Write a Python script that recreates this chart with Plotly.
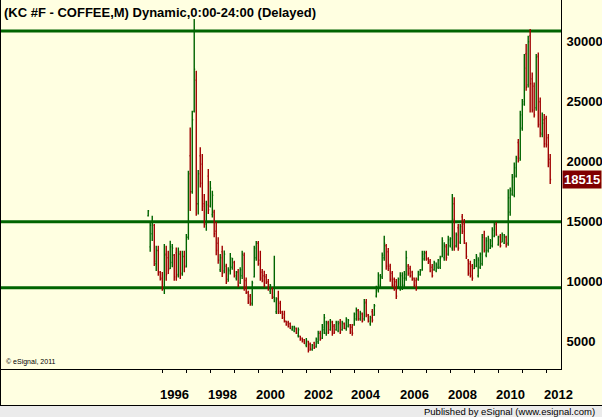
import pandas as pd
import plotly.graph_objects as go

# ---------------- data (monthly OHLC, price x100) ----------------
START_MONTH = "1995-06-01"

OPEN = [15500,12900,14000,14700,11500,12600,10800,10300,9400,12300,12000,11100,11600,12200,12400,10600,12300,10700,12100,11300,
        13700,20500,17500,24200,26800,16500,20500,19800,16500,14800,18800,16300,15600,15800,14200,13200,11000,12500,10900,11300,
        10200,10900,11200,11600,10300,10800,9900,10500,12200,10100,9100,8800,8200,10400,12000,13200,11800,10800,10500,10400,
        10000,9200,9400,8700,7500,8600,8200,7500,7300,6700,6600,6500,6000,5900,6100,5500,5450,5300,5150,4700,
        5000,4800,4350,4900,4600,5000,5700,5300,6000,5700,6600,6000,6600,6300,6000,5900,6600,6000,6500,6100,
        6300,6400,6200,6400,6900,7600,6900,7300,6900,8300,7200,6500,7500,7200,8800,9300,9700,10400,12000,13000,
        12500,11300,10700,10200,10000,9600,9400,9500,9700,10300,11300,11100,10800,10300,10100,10200,10600,11000,11900,12400,
        11900,11700,11200,11000,10900,11200,11200,12100,12000,12900,12300,13000,12800,16500,13000,14500,13300,15400,14800,13200,
        11800,11500,11300,11100,11300,10500,11200,11500,13900,12200,12600,12800,13000,13800,14800,13100,13800,13300,13200,13700,
        13200,15800,17300,17200,18800,21600,20300,22800,24800,29000,26400,30500,26900,26300,24500,28800,25000,22300,23500,23600,
        22000,20200]
HIGH = [15970,15000,15500,14800,13000,13000,10900,10800,13140,13000,12580,13420,13140,12310,12860,12860,12580,12580,12580,13970,
        19250,22860,24250,31890,27580,19300,21200,20640,17300,16750,19390,18400,17580,16000,15000,13700,12300,13000,12600,11500,
        11200,12400,12000,11750,10900,11050,11200,12580,12440,10360,9250,8970,10080,13000,13400,13400,12580,11050,10920,10640,
        10220,9800,9530,12170,8700,9250,8420,7580,7580,6750,6750,6610,6330,6330,6190,6190,5500,5360,5220,5300,
        5080,4940,4800,5000,5360,5920,5920,6470,7300,6750,6750,6890,6750,6470,6750,6750,6890,6750,6610,7030,
        6890,6470,6470,7440,7860,7720,7580,7440,8560,8560,7300,7170,7720,8140,9670,10780,10640,12440,13830,13140,
        12800,11500,10900,10360,10220,10360,10780,10780,10900,12580,11470,11330,10920,10360,10360,10920,11060,12580,12580,12580,
        12030,11890,11470,11750,11610,11890,12170,13700,13280,13140,13830,13700,17310,17030,14110,14810,14810,15640,15220,13280,
        11890,11750,11470,11890,12310,12030,12440,13970,14250,13700,13830,13560,14530,14950,14950,13830,13970,14110,13970,13830,
        17700,17860,18970,19940,20500,21890,24250,25220,28970,29810,30500,31060,27440,26610,28970,29110,25360,24110,23970,23830,
        22310,20640]
LOW = [15440,12500,13400,11300,10900,10500,10100,9250,8970,10080,10640,11060,11200,10080,10080,10360,10220,10500,10780,11190,
       13500,15900,17330,24110,15500,15600,17860,15900,14500,14250,15640,16190,15360,13700,12200,11500,10800,10400,10700,9800,
       10000,10600,11000,10360,10100,9530,9800,10220,9250,8970,8140,8000,8000,10360,11750,11330,10080,9950,9530,9800,
       9250,8970,8560,8280,7310,7310,7310,6890,6610,6330,6190,6060,5920,5780,5640,5360,5080,4940,4800,4530,
       4110,4250,4250,4400,4500,4800,5080,5220,5640,5500,5640,5920,5500,5640,5920,5780,5640,5920,6060,5920,
       6190,5640,5500,6330,6750,6750,6750,6610,6750,7030,6610,6330,6610,7170,8690,9110,9530,10220,11750,11000,
       10900,10000,9530,9250,8560,9530,9250,9300,9530,10080,10500,10360,10080,9530,9250,10080,10500,10920,11750,11750,
       11470,10780,10360,10920,10780,11060,11060,12030,11750,11750,12170,12860,12580,12580,12860,12580,13140,13970,13140,11890,
       10500,10360,10080,11060,11200,10360,11060,11330,12440,12030,12440,12720,12860,13700,13830,13000,12860,13280,13140,12860,
       13000,15500,17170,17030,18690,19940,20080,22580,24670,25920,26190,24110,24110,23690,24250,22860,22030,22030,21190,21190,
       19530,18140]
CLOSE = [15900,14700,14900,11700,12600,10800,10200,9500,12200,10600,11000,12900,12800,10400,10500,12300,10600,12100,11200,13700,
         19000,17500,23500,27700,16500,19000,18200,16300,14800,16400,16000,17800,17200,14000,12600,11800,12000,10700,12300,10000,
         11000,12000,11900,10500,10800,9700,11000,12300,9500,9100,8300,8100,9900,12800,13200,11500,10300,10100,9700,9900,
         9400,9700,8700,9500,8500,7500,7400,7000,6700,6400,6250,6100,6250,6200,5700,6000,5150,5000,4850,5100,
         4300,4400,4700,4500,5200,5700,5200,6200,7000,6500,5800,6700,5700,5800,6600,6500,5800,6600,6100,6900,
         6800,5800,5700,7300,7600,6900,7400,6700,8200,7300,6700,7000,6800,8000,9500,10500,10400,12200,13200,11300,
         11100,10200,9700,9400,8800,10200,10500,10300,10600,12000,10700,10500,10200,9700,9500,10800,10900,12300,12400,11900,
         11600,10900,10500,11600,11400,11800,12000,13400,13000,12000,13500,13600,15200,12900,13900,12800,14600,14200,13400,12100,
         10700,10500,10300,11800,12100,11800,12300,13700,12600,13400,13600,13400,14300,14800,13900,13700,13000,13900,13800,13100,
         17000,17600,18700,19500,20300,20100,23900,25000,27800,26200,30000,26500,24300,23900,28700,23100,22400,23200,21500,21400,
         19900,18515]

SUPPORT_LEVELS = [30900, 15000, 9500]
Y_TICKS = [5000, 10000, 15000, 20000, 25000, 30000]
YEAR_LABELS = ["1996", "1998", "2000", "2002", "2004", "2006", "2008", "2010", "2012"]
TICK_YEARS = list(range(1996, 2013))
LAST_PRICE = CLOSE[-1]

TITLE = "(KC #F - COFFEE,M) Dynamic,0:00-24:00 (Delayed)"
COPYRIGHT = "\u00a9 eSignal, 2011"
FOOTER = "Published by eSignal (www.esignal.com)"

# ---------------- styling ----------------
BG = "#FFFFE1"
GREEN = "#006400"
RED = "#A00000"
FONT = "Liberation Sans, Arial, sans-serif"

W, H = 602, 417
ML, MR, MT, MB = 0, 41, 0, 48
PW, PH = W - ML - MR, H - MT - MB


def py(p):  # pixel row -> paper y
    return (PH - p) / PH


def px(p):  # pixel column -> paper x
    return p / PW


dates = pd.date_range(START_MONTH, periods=len(CLOSE), freq="MS")

fig = go.Figure()
fig.add_trace(go.Ohlc(
    x=dates, open=OPEN, high=HIGH, low=LOW, close=CLOSE,
    increasing=dict(line=dict(color=GREEN, width=1.4)),
    decreasing=dict(line=dict(color=RED, width=1.4)),
    tickwidth=0.5, showlegend=False, hoverinfo="skip",
))

shapes = []
for lvl in SUPPORT_LEVELS:
    shapes.append(dict(type="line", xref="paper", yref="y", x0=0, x1=1, y0=lvl, y1=lvl,
                       line=dict(color=GREEN, width=3), layer="below"))
# footer strip
shapes.append(dict(type="rect", xref="paper", yref="paper", x0=-0.01, x1=px(W + 2),
                   y0=py(417.5), y1=py(406), fillcolor="#EBEBEB", line=dict(width=0), layer="above"))
shapes.append(dict(type="line", xref="paper", yref="paper", x0=-0.01, x1=px(W + 2),
                   y0=py(405.5), y1=py(405.5), line=dict(color="#000000", width=1)))
# left window border
shapes.append(dict(type="line", xref="paper", yref="paper", x0=px(0.5), x1=px(0.5),
                   y0=py(0), y1=py(406), line=dict(color="#000000", width=1)))

annotations = []
annotations.append(dict(text=TITLE, xref="paper", yref="paper", x=px(1.5), y=py(2.5),
                        xanchor="left", yanchor="top", showarrow=False,
                        font=dict(family=FONT, size=13, color="#000000", weight="bold")))
annotations.append(dict(text=COPYRIGHT, xref="paper", yref="paper", x=px(4), y=py(362),
                        xanchor="left", yanchor="middle", showarrow=False,
                        font=dict(family=FONT, size=7, color="#000000")))
annotations.append(dict(text=FOOTER, xref="paper", yref="paper", x=px(597), y=py(411.5),
                        xanchor="right", yanchor="middle", showarrow=False,
                        font=dict(family=FONT, size=9.5, color="#000000")))
for lab in YEAR_LABELS:
    annotations.append(dict(text=lab, xref="x", yref="paper", x=f"{lab}-07-01", y=py(394.5),
                            xanchor="center", yanchor="middle", showarrow=False,
                            font=dict(family=FONT, size=13, color="#000000", weight="bold")))
annotations.append(dict(text=f"{LAST_PRICE}", xref="paper", yref="y", x=1, y=LAST_PRICE,
                        xanchor="left", yanchor="middle", xshift=1, showarrow=False,
                        bgcolor="#800000", borderpad=1,
                        font=dict(family=FONT, size=13, color="#FFFFFF", weight="bold")))

fig.update_layout(
    width=W, height=H,
    margin=dict(l=ML, r=MR, t=MT, b=MB, pad=0),
    paper_bgcolor=BG, plot_bgcolor=BG,
    showlegend=False,
    shapes=shapes, annotations=annotations,
    xaxis=dict(type="date", range=["1989-03-28", "2012-08-12"],
               rangeslider=dict(visible=False),
               showgrid=False, zeroline=False,
               showline=True, linecolor="#000000", linewidth=1,
               tickmode="array", tickvals=[f"{y}-01-01" for y in TICK_YEARS],
               ticks="outside", ticklen=3, tickcolor="#000000", tickwidth=1,
               showticklabels=False, fixedrange=True),
    yaxis=dict(side="right", range=[2725, 33475],
               showgrid=False, zeroline=False,
               showline=True, linecolor="#000000", linewidth=1,
               tickmode="array", tickvals=Y_TICKS, ticktext=[str(v) for v in Y_TICKS],
               ticks="", ticklabelstandoff=2,
               tickfont=dict(family=FONT, size=13, color="#000000", weight="bold"),
               fixedrange=True),
)

fig.write_html("out.html")
